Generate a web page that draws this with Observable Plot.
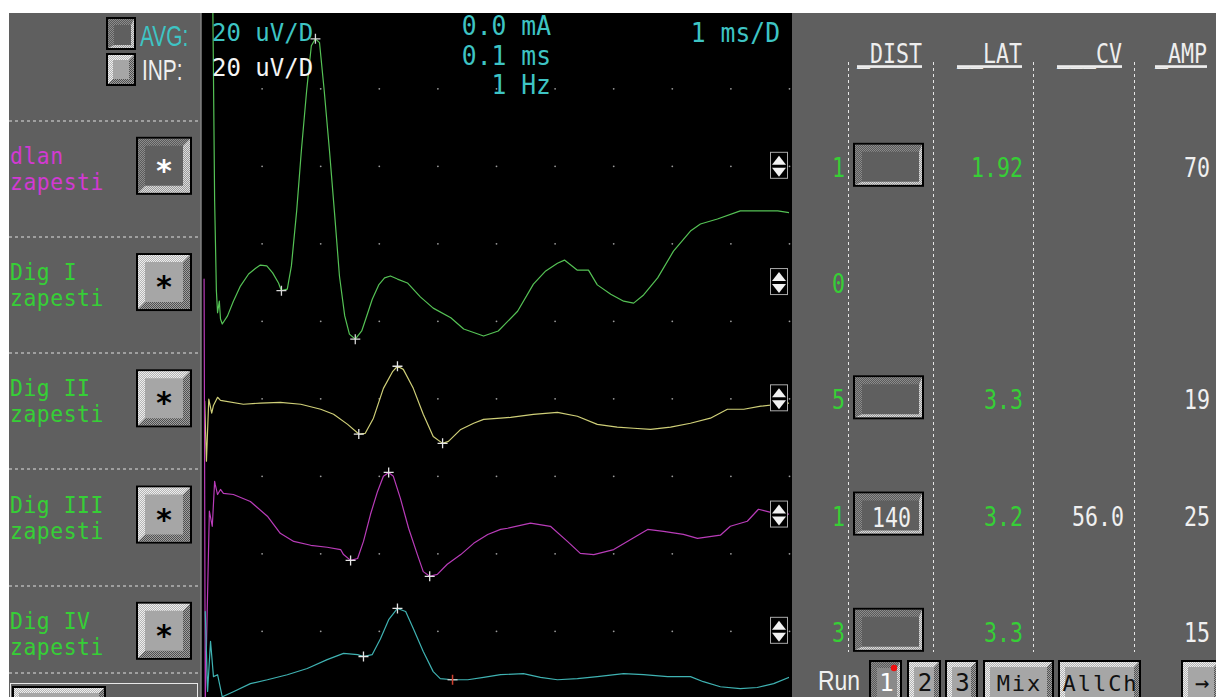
<!DOCTYPE html>
<html><head><meta charset="utf-8">
<script src="https://cdn.jsdelivr.net/npm/d3@7"></script>
<script src="https://cdn.jsdelivr.net/npm/@observablehq/plot@0.6"></script>
<style>
html,body{margin:0;padding:0;background:#fff;}
#root{position:relative;width:1216px;height:697px;overflow:hidden;}
#root svg{position:absolute;}
</style></head><body><div id="root"></div>
<script>
// ---------------- data ----------------
const channelNames = ["dlan", "Dig I", "Dig II", "Dig III", "Dig IV"];
const channelSites = ["zapesti", "zapesti", "zapesti", "zapesti", "zapesti"];
const segNumbers = ["1", "0", "5", "1", "3"];
const distValues = ["", null, "", "140", ""];
const latValues = ["1.92", "", "3.3", "3.2", "3.3"];
const cvValues = ["", "", "", "56.0", ""];
const ampValues = ["70", "", "19", "25", "15"];
const columnHeaders = ["_DIST", "__LAT", "___CV", "_AMP"];
const settingNames = ["AVG:", "INP:"];
const sensitivityLabels = ["20 uV/D", "20 uV/D"];
const stimSettings = ["0.0 mA", "0.1 ms", "1 Hz"];
const sweepLabel = "1 ms/D";
const runLabel = "Run";
const runButtons = ["1", "2", "3", "Mix", "AllCh", "\u2192"];
const sensitivity = 20;   // uV per division
const sweepSpeed = 1;     // ms per division
const divisions = 10;

// traces: [time ms, amplitude uV relative to channel baseline]
const traceDlan = [[0.16,40],[0.19,-8.9],[0.22,-32.1],[0.24,-37.8],[0.27,-34.8],[0.29,-39.4],[0.32,-40.7],[0.41,-38.6],[0.51,-34.8],[0.63,-30.9],[0.77,-27.8],[0.89,-26.3],[0.97,-25.5],[1.08,-25.7],[1.18,-27.5],[1.28,-30.1],[1.33,-32.1],[1.43,-31.7],[1.50,-25.7],[1.59,-11.5],[1.67,4.0],[1.76,19.5],[1.84,31.1],[1.91,32.9],[1.98,31.9],[2.06,19.5],[2.15,4.0],[2.24,-12.8],[2.32,-28.3],[2.41,-38.6],[2.49,-43.3],[2.59,-44.6],[2.70,-42.5],[2.78,-38.9],[2.88,-34.3],[2.99,-30.6],[3.09,-28.8],[3.19,-28.3],[3.31,-29.1],[3.48,-30.1],[3.70,-33.7],[3.92,-36.6],[4.22,-39.1],[4.44,-42.0],[4.78,-43.8],[5.03,-42.5],[5.36,-37.4],[5.63,-30.4],[5.84,-27.0],[6.04,-25.0],[6.16,-24.2],[6.38,-26.8],[6.57,-26.8],[6.72,-30.6],[6.95,-33.0],[7.17,-34.8],[7.34,-35.3],[7.51,-33.2],[7.75,-28.8],[8.02,-21.9],[8.31,-16.7],[8.48,-14.9],[8.77,-13.6],[9.16,-11.5],[9.51,-11.5],[9.80,-11.5],[10.02,-12.0]];
const traceDigII = [[0.02,-0.6],[0.05,-16.1],[0.09,-0.1],[0.14,-3.7],[0.17,-1.7],[0.24,0.4],[0.29,-0.4],[0.68,-1.4],[0.97,-1.1],[1.31,-0.9],[1.66,-1.4],[2.00,-2.7],[2.22,-4.0],[2.46,-6.6],[2.65,-9.1],[2.76,-8.9],[2.90,-5.0],[3.07,2.7],[3.23,7.1],[3.31,8.4],[3.41,7.6],[3.58,2.7],[3.75,-4.0],[3.92,-9.7],[4.08,-11.5],[4.18,-11.0],[4.39,-7.9],[4.61,-6.3],[4.78,-5.3],[5.07,-5.0],[5.24,-4.8],[5.63,-4.0],[6.04,-3.5],[6.38,-4.5],[6.72,-6.6],[7.06,-7.3],[7.34,-7.6],[7.63,-7.9],[7.97,-7.3],[8.31,-6.3],[8.65,-5.0],[8.94,-2.7],[9.22,-2.7],[9.51,-1.9],[9.80,-1.4],[10.02,-1.1]];
const traceDigIII = [[0.01,60.9],[0.03,-48.0],[0.10,1.0],[0.15,-2.9],[0.19,8.7],[0.20,7.9],[0.24,5.3],[0.29,6.6],[0.34,5.6],[0.51,5.3],[0.80,3.5],[1.09,-0.3],[1.31,-4.7],[1.54,-6.8],[1.83,-7.8],[2.11,-8.3],[2.34,-8.9],[2.39,-10.2],[2.51,-11.7],[2.63,-11.2],[2.73,-6.8],[2.85,0.2],[2.97,6.1],[3.07,10.0],[3.16,11.0],[3.24,10.0],[3.36,4.3],[3.50,-3.4],[3.65,-10.2],[3.75,-14.6],[3.86,-15.8],[3.99,-15.3],[4.16,-12.7],[4.39,-10.2],[4.61,-7.3],[4.85,-5.0],[5.07,-3.7],[5.19,-3.4],[5.58,-2.1],[5.92,-2.9],[6.21,-6.8],[6.43,-9.9],[6.66,-10.2],[7.00,-8.9],[7.29,-6.3],[7.58,-3.7],[7.85,-4.2],[8.19,-5.0],[8.43,-6.0],[8.82,-5.2],[8.99,-2.9],[9.28,-1.6],[9.47,1.5],[9.68,0.7],[10.02,0.2]];
const traceDigIV = [[0.03,5.1],[0.07,-15.5],[0.12,-2.6],[0.17,-11.7],[0.24,-11.2],[0.32,-16.9],[0.51,-15.6],[0.80,-13.5],[1.09,-12.5],[1.43,-11.2],[1.77,-9.6],[2.11,-7.3],[2.39,-5.7],[2.63,-6.0],[2.73,-6.5],[2.88,-6.0],[3.02,-1.9],[3.16,3.0],[3.31,5.9],[3.45,5.1],[3.58,0.7],[3.75,-5.2],[3.92,-10.4],[4.04,-12.2],[4.25,-12.5],[4.51,-12.5],[4.78,-11.9],[5.07,-11.2],[5.46,-10.9],[5.75,-11.9],[6.04,-12.5],[6.38,-12.2],[6.72,-11.7],[7.17,-10.9],[7.51,-11.2],[7.92,-11.7],[8.31,-11.7],[8.53,-13.0],[8.82,-14.3],[9.16,-14.8],[9.45,-14.5],[9.73,-13.5],[10.02,-11.7]];
// latency markers [time ms, amplitude uV]
const markersDlan = [[1.33,-32.1],[1.91,32.9],[2.59,-44.6]];
const markersDigII = [[2.65,-9.1],[3.31,8.4],[4.08,-11.5]];
const markersDigIII = [[2.51,-11.7],[3.16,11.0],[3.86,-15.8]];
const markersDigIV = [[2.73,-6.5],[3.31,5.9]];
const markersDigIVEnd = [[4.25,-12.5]];

// ---------------- style / layout ----------------
const W = 1216, H = 697;
const GREY = "#5f5f5f";
const MONO = '"DejaVu Sans Mono", "Liberation Mono", monospace';
const SANS = '"Liberation Sans", Arial, sans-serif';
const GREEN = "#36cf36", MAGENTA = "#d23ad2", CYAN = "#3ec4c4";
const scopeLeft = 202, scopeTop = 13, scopeW = 590, scopeH = 684;
const base = [-1, -2.5, -4, -5.5, -7]; // channel baselines in divisions

const traceSets = [
  {data: traceDlan, ch: 0, color: "#55c255"},
  {data: traceDigII, ch: 2, color: "#cfcf78"},
  {data: traceDigIII, ch: 3, color: "#b93cb9"},
  {data: traceDigIV, ch: 4, color: "#3fb2b2"}
];
const yOf = ch => d => base[ch] + d[1] / sensitivity;
const plusSym = {draw(ctx, size) { const r = Math.sqrt(size / Math.PI); ctx.moveTo(-r, 0); ctx.lineTo(r, 0); ctx.moveTo(0, -r); ctx.lineTo(0, r); }};
const vtickSym = {draw(ctx, size) { const r = Math.sqrt(size / Math.PI); ctx.moveTo(0, -r); ctx.lineTo(0, r); }};
const htickSym = {draw(ctx, size) { const r = Math.sqrt(size / Math.PI); ctx.moveTo(-r, 0); ctx.lineTo(r, 0); }};
const gridPts = d3.cross(d3.range(1, divisions + 1), d3.range(0, -8, -1));

const chart = Plot.plot({
  width: scopeW, height: scopeH,
  marginLeft: 1, marginRight: 3, marginTop: 0, marginBottom: 0,
  x: {domain: [0, divisions * sweepSpeed], axis: null},
  y: {domain: [-7.854, 0.9716], axis: null},
  style: {background: "#000", overflow: "hidden"},
  marks: [
    Plot.dot(gridPts, {x: d => d[0] * sweepSpeed, y: d => d[1], r: 0.9, fill: "#9a9a9a", stroke: null}),
    ...traceSets.map(s => Plot.line(s.data, {x: d => d[0], y: yOf(s.ch), stroke: s.color, strokeWidth: 1.2, clip: true})),
    Plot.dot(markersDlan, {x: d => d[0], y: yOf(0), symbol: plusSym, r: 5, stroke: "#d8d8d8", strokeWidth: 1.3}),
    Plot.dot(markersDigII, {x: d => d[0], y: yOf(2), symbol: plusSym, r: 5, stroke: "#e4e4e4", strokeWidth: 1.3}),
    Plot.dot(markersDigIII, {x: d => d[0], y: yOf(3), symbol: plusSym, r: 5, stroke: "#e4e4e4", strokeWidth: 1.3}),
    Plot.dot(markersDigIV, {x: d => d[0], y: yOf(4), symbol: plusSym, r: 5, stroke: "#e4e4e4", strokeWidth: 1.3}),
    Plot.dot(markersDigIVEnd, {x: d => d[0], y: yOf(4), symbol: htickSym, r: 5, stroke: "#d0d0d0", strokeWidth: 1.3}),
    Plot.dot(markersDigIVEnd, {x: d => d[0], y: yOf(4), symbol: vtickSym, r: 5, stroke: "#d04030", strokeWidth: 1.5})
  ]
});
const root = d3.select("#root");
d3.select(chart).style("left", scopeLeft + "px").style("top", scopeTop + "px");
root.node().appendChild(chart);
const ys = chart.scale("y");
const rowY = base.map(b => scopeTop + ys.apply(b));

// ---------------- UI overlay ----------------
const ui = root.append("svg").attr("width", W).attr("height", H).style("left", 0).style("top", 0);
const defs = ui.append("defs");
function checker(id, c1, c2) {
  const p = defs.append("pattern").attr("id", id).attr("width", 2).attr("height", 2).attr("patternUnits", "userSpaceOnUse");
  p.append("rect").attr("width", 2).attr("height", 2).attr("fill", c1);
  p.append("rect").attr("width", 1).attr("height", 1).attr("fill", c2);
  p.append("rect").attr("x", 1).attr("y", 1).attr("width", 1).attr("height", 1).attr("fill", c2);
}
checker("lightHatch", "#b4b4b4", "#eeeeee");
checker("darkHatch", "#a0a0a0", "#505050");
checker("midHatch", "#5a5a5a", "#8c8c8c");
checker("pressLight", "#9a9a9a", "#dcdcdc");

function txt(s, x, y, o = {}) {
  return ui.append("text")
    .attr("transform", `translate(${x},${y}) scale(${o.sx ?? 1},1)`)
    .attr("text-anchor", o.anchor ?? "start")
    .attr("font-family", o.family ?? MONO)
    .attr("font-size", o.fs ?? 22)
    .attr("font-weight", o.weight ?? null)
    .attr("letter-spacing", o.ls ?? null)
    .attr("text-decoration", o.deco ?? null)
    .attr("fill", o.fill ?? "#eee")
    .text(s);
}
function bevel(x, y, w, h, o) {
  const g = ui.append("g");
  g.append("rect").attr("x", x).attr("y", y).attr("width", w).attr("height", h).attr("fill", "#000");
  const x0 = x + 2, y0 = y + 2, x1 = x + w - 2, y1 = y + h - 2, a = o.tlw, b = o.brw;
  g.append("rect").attr("x", x0).attr("y", y0).attr("width", x1 - x0).attr("height", y1 - y0).attr("fill", o.face);
  g.append("polygon").attr("points", [[x0,y0],[x1,y0],[x1-b,y0+a],[x0+a,y0+a],[x0+a,y1-b],[x0,y1]].join(" ")).attr("fill", o.tl);
  g.append("polygon").attr("points", [[x1,y0],[x1,y1],[x0,y1],[x0+a,y1-b],[x1-b,y1-b],[x1-b,y0+a]].join(" ")).attr("fill", o.br);
  return g;
}
const raised = (bw) => ({face: "#a6a6a6", tl: "url(#lightHatch)", br: "url(#darkHatch)", tlw: bw, brw: bw});
const pressed = (a, b) => ({face: GREY, tl: "url(#midHatch)", br: "url(#pressLight)", tlw: a, brw: b});

// panels
ui.append("rect").attr("x", 9).attr("y", 13).attr("width", scopeLeft - 9).attr("height", H - 13).attr("fill", GREY);
ui.append("rect").attr("x", scopeLeft + scopeW).attr("y", 13).attr("width", W - scopeLeft - scopeW).attr("height", H - 13).attr("fill", GREY);
ui.append("line").attr("x1", 200.5).attr("x2", 200.5).attr("y1", 13).attr("y2", H).attr("stroke", "#7a7a7a");

// left panel top
bevel(106, 17, 30, 33, pressed(6, 3));
bevel(106, 53, 30, 33, raised(5));
txt(settingNames[0], 140, 46, {fs: 29, sx: 0.72, fill: CYAN, family: SANS});
txt(settingNames[1], 142, 80, {fs: 29, sx: 0.72, fill: "#f0f0f0", family: SANS});

// separators
[121, 237, 353, 469, 586, 673].forEach(y => ui.append("line").attr("x1", 9).attr("x2", 200).attr("y1", y).attr("y2", y).attr("stroke", "#e0e0e0").attr("stroke-dasharray", "3,3"));

// channel labels and star buttons
channelNames.forEach((n, i) => {
  const Y = rowY[i];
  const c = i === 0 ? MAGENTA : GREEN;
  txt(n, 10, Y - 2, {fs: 23, sx: 0.93, fill: c, ls: 0.6});
  txt(channelSites[i], 10, Y + 24, {fs: 23, sx: 0.93, fill: c, ls: 0.6});
  bevel(136, Y - 29, 56, 58, i === 0 ? pressed(7, 7) : raised(7));
  txt("*", 164, Y + 15, {fs: 30, anchor: "middle", fill: i === 0 ? "#fff" : "#000", weight: "bold"});
});
// bottom-left box
ui.append("rect").attr("x", 10.5).attr("y", 683.5).attr("width", 187).attr("height", 30).attr("fill", "none").attr("stroke", "#e8e8e8");
bevel(12, 686, 94, 30, raised(5));

// scope overlay texts
txt(sensitivityLabels[0], 212, 41, {fs: 24, fill: CYAN});
txt(sensitivityLabels[1], 212, 76, {fs: 24, fill: "#f4f4f4"});
stimSettings.forEach((s, i) => txt(s, 551, 35 + i * 29.5, {fs: 26, sx: 0.95, fill: CYAN, anchor: "end"}));
txt(sweepLabel, 780, 42, {fs: 26, sx: 0.95, fill: CYAN, anchor: "end"});

// up/down icons at channel baselines
rowY.forEach(Y => {
  const g = ui.append("g");
  g.append("rect").attr("x", 770.5).attr("y", Y - 13.5).attr("width", 17).attr("height", 26).attr("fill", "#000").attr("stroke", "#aaa");
  g.append("polygon").attr("points", [[772, Y - 1], [786, Y - 1], [779, Y - 10]].join(" ")).attr("fill", "#f2f2f2");
  g.append("polygon").attr("points", [[772, Y + 2], [786, Y + 2], [779, Y + 11]].join(" ")).attr("fill", "#f2f2f2");
});

// right panel
const colX = [848, 933, 1033, 1134];
colX.forEach(x => ui.append("line").attr("x1", x + 0.5).attr("x2", x + 0.5).attr("y1", 62).attr("y2", 652).attr("stroke", "#e6e6e6").attr("stroke-dasharray", "3,3"));
const headRight = [922, 1022, 1122, 1207];
columnHeaders.forEach((h, i) => txt(h, headRight[i], 63, {fs: 27, sx: 0.8, anchor: "end", deco: "underline"}));
const RFS = {fs: 27, sx: 0.8, anchor: "end"};
rowY.forEach((Y, i) => {
  txt(segNumbers[i], 845, Y + 11, {...RFS, fill: GREEN});
  if (distValues[i] !== null) {
    bevel(853, Y - 23, 71, 44, pressed(7, 3));
    if (distValues[i]) txt(distValues[i], 911, Y + 12, {...RFS, fill: "#f0f0f0"});
  }
  if (latValues[i]) txt(latValues[i], 1023, Y + 11, {...RFS, fill: GREEN});
  if (cvValues[i]) txt(cvValues[i], 1124, Y + 11, {...RFS, fill: "#f0f0f0"});
  if (ampValues[i]) txt(ampValues[i], 1210, Y + 11, {...RFS, fill: "#f0f0f0"});
});

// run row
txt(runLabel, 818, 690, {fs: 27, sx: 0.85, family: SANS, fill: "#f0f0f0"});
const runX = [[869, 33], [907, 34], [945, 33], [983, 71], [1058, 83], [1181, 40]];
runButtons.forEach((b, i) => {
  const [x, w] = runX[i];
  bevel(x, 660, w, 45, i === 0 ? {face: "#8a8a8a", tl: "url(#midHatch)", br: "url(#pressLight)", tlw: 6, brw: 3} : raised(5));
  txt(b, x + w / 2 + 1, 691, {fs: b.length > 1 ? 22 : 24, anchor: "middle", fill: i === 0 ? "#fff" : "#111", ls: b.length > 1 ? 2 : null});
});
ui.append("circle").attr("cx", 894).attr("cy", 668).attr("r", 3.2).attr("fill", "#f01010");
</script></body></html>
